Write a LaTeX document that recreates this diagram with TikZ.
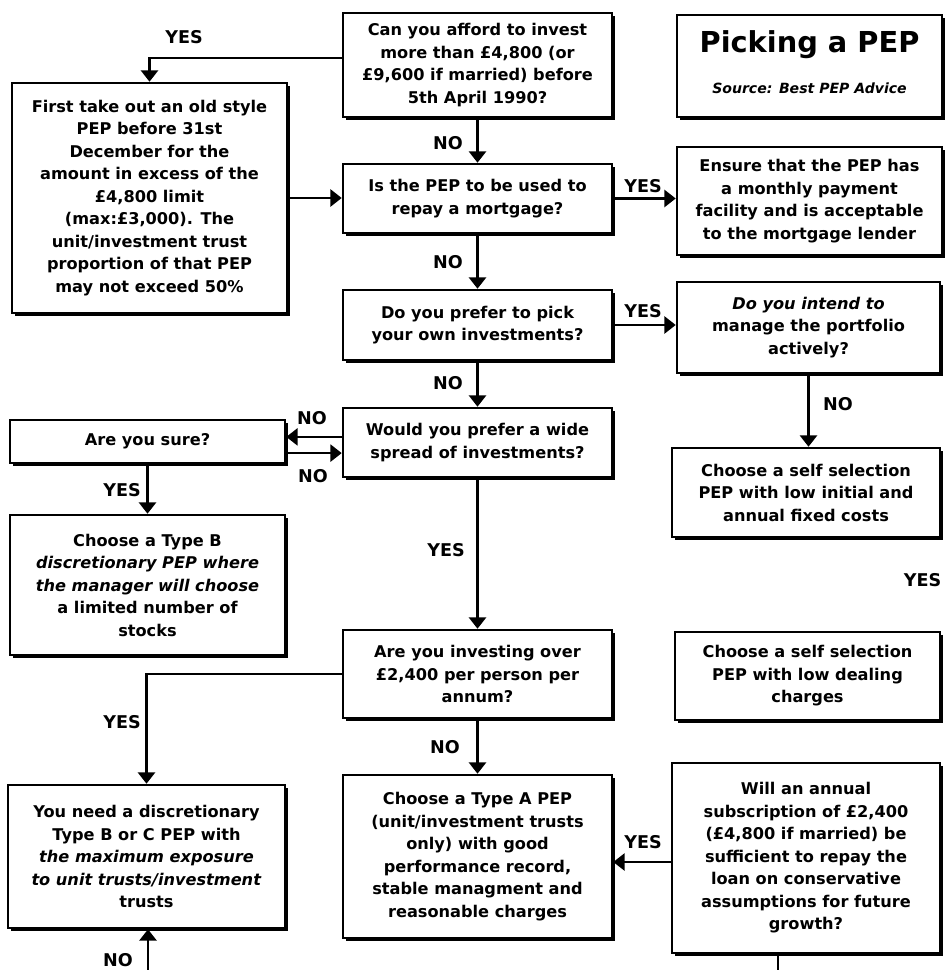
\documentclass[tikz,border=0pt]{standalone}
\usepackage{fontspec}
\setmainfont{DejaVu Sans}
\usetikzlibrary{positioning,arrows.meta,shadows}

\begin{document}
\begin{tikzpicture}[x=0.025cm,y=-0.025cm,
  every node/.style={font=\bfseries\fontsize{11.5}{16}\selectfont},
  qnode/.style={draw,line width=1.8pt,fill=white,align=center,inner sep=2pt,
    general shadow={fill=black,shadow xshift=2.4pt,shadow yshift=-2.4pt}},
  sz/.style 2 args={minimum width=#1*0.025cm,minimum height=#2*0.025cm},
  lbl/.style={inner sep=1pt,font=\bfseries\fontsize{12.5}{15}\selectfont},
  arr/.style={line width=1.8pt,-{Triangle[width=12pt,length=8pt]}},
  ln/.style={line width=1.8pt}
]
\useasboundingbox (0,0) rectangle (944,970);

% the middle column
\node[qnode,sz={269}{104}] (afford) at (477.5,65) {Can you afford to invest\\more than £4,800 (or\\£9,600 if married) before\\5th April 1990?};
\node[qnode,sz={269}{69}] (mortgage) at (477.5,198.5) {Is the PEP to be used to\\repay a mortgage?};
\node[qnode,sz={269}{70}] (ownpick) at (477.5,325) {Do you prefer to pick\\your own investments?};
\node[qnode,sz={269}{69}] (spread) at (477.5,442.5) {Would you prefer a wide\\spread of investments?};
\node[qnode,sz={269}{88}] (over) at (477.5,674) {Are you investing over\\£2,400 per person per\\annum?};
\node[qnode,sz={269}{163}] (typeA) at (477.5,856.5) {Choose a Type A PEP\\(unit/investment trusts\\only) with good\\performance record,\\stable managment and\\reasonable charges};

% the left column
\node[qnode,sz={275}{230}] (oldstyle) at (149.5,198) {First take out an old style\\PEP before 31st\\December for the\\amount in excess of the\\£4,800 limit\\(max:£3,000). The\\unit/investment trust\\proportion of that PEP\\may not exceed 50\%};
\node[qnode,sz={275}{43}] (sure) at (147.5,441.5) {Are you sure?};
\node[qnode,sz={275}{140}] (typeB) at (147.5,585) {Choose a Type B\\\textit{discretionary PEP where}\\\textit{the manager will choose}\\a limited number of\\stocks};
\node[qnode,sz={277}{143}] (needdisc) at (146.5,856.5) {You need a discretionary\\Type B or C PEP with\\\textit{the maximum exposure}\\\textit{to unit trusts/investment}\\trusts};

% the right column
\node[qnode,sz={265}{102}] (titlebox) at (809.5,66) {};
\node (title) at (809.5,45) {\fontsize{20.5}{24}\selectfont Picking a PEP};
\node (source) at (809.5,88) {\fontsize{10}{12}\selectfont\itshape Source: Best PEP Advice};
\node[qnode,sz={265}{108}] (ensure) at (809.5,201) {Ensure that the PEP has\\a monthly payment\\facility and is acceptable\\to the mortgage lender};
\node[qnode,sz={263}{91}] (intend) at (808.5,327.5) {\textit{Do you intend to}\\manage the portfolio\\actively?};
\node[qnode,sz={268}{89}] (lowinit) at (806,492.5) {Choose a self selection\\PEP with low initial and\\annual fixed costs};
\node[qnode,sz={265}{88}] (lowdeal) at (807.5,676) {Choose a self selection\\PEP with low dealing\\charges};
\node[qnode,sz={268}{190}] (annual) at (806,858) {Will an annual\\subscription of £2,400\\(£4,800 if married) be\\sufficient to repay the\\loan on conservative\\assumptions for future\\growth?};

% the edges
\draw[arr] ([yshift=0.175cm]afford.west) -| (oldstyle.north);
\draw[arr] (afford.south) -- (mortgage.north);
\draw[arr] (oldstyle.east) -- (oldstyle.east -| mortgage.west);
\draw[arr] (mortgage.east) -- (mortgage.east -| ensure.west);
\draw[arr] (mortgage.south) -- (ownpick.north);
\draw[arr] (ownpick.east) -- (ownpick.east -| intend.west);
\draw[arr] (ownpick.south) -- (spread.north);
\draw[arr] ([yshift=0.14cm]spread.west) -- ([yshift=0.14cm]spread.west -| sure.east);
\draw[arr] ([yshift=-0.29cm]sure.east) -- ([yshift=-0.29cm]sure.east -| spread.west);
\draw[arr] (sure.south) -- (typeB.north);
\draw[arr] (spread.south) -- (over.north);
\draw[arr] (intend.south) -- (intend.south |- lowinit.north);
\draw[arr] (over.west) -| (needdisc.north);
\draw[arr] (over.south) -- (typeA.north);
\draw[arr] ([yshift=-0.1cm]annual.west) -- ([yshift=-0.1cm]annual.west -| typeA.east);
\coordinate (nobot) at (148,972);
\draw[arr] (nobot) -- (nobot |- needdisc.south);
\coordinate (anbot) at (778,972);
\draw[ln] (annual.south -| anbot) -- (anbot);

% the labels
\node[lbl] (yes1) at (184,37) {YES};
\node[lbl] (no1) at (448,143) {NO};
\node[lbl] (yes2) at (643,186) {YES};
\node[lbl] (no2) at (448,262) {NO};
\node[lbl] (yes3) at (643,311) {YES};
\node[lbl] (no3) at (448,383) {NO};
\node[lbl] (no4) at (312,418) {NO};
\node[lbl] (no5) at (313,476) {NO};
\node[lbl] (yes4) at (122,490) {YES};
\node[lbl] (no6) at (838,404) {NO};
\node[lbl] (yes5) at (446,550) {YES};
\node[lbl,anchor=east] (yes6) at (943,580) {YES};
\node[lbl] (yes7) at (122,722) {YES};
\node[lbl] (no7) at (445,747) {NO};
\node[lbl] (yes8) at (643,842) {YES};
\node[lbl] (no8) at (118,960) {NO};
\end{tikzpicture}
\end{document}
